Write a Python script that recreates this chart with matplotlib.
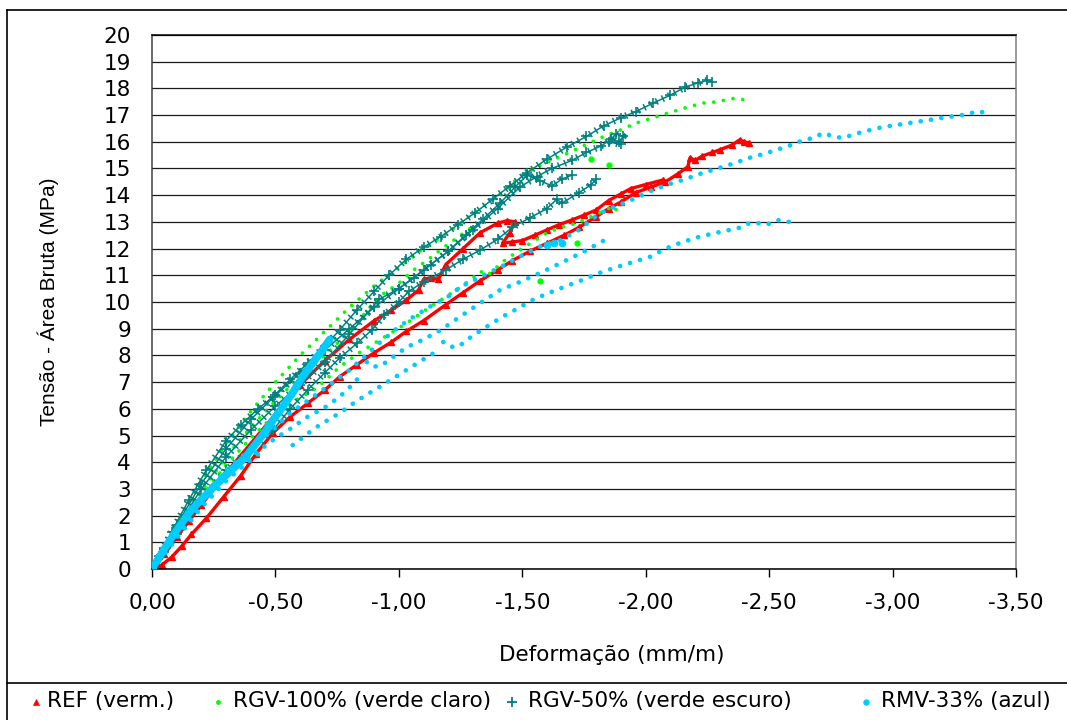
import matplotlib
matplotlib.use("Agg")
import matplotlib.pyplot as plt
from matplotlib.lines import Line2D
from matplotlib.ticker import FuncFormatter

# ---------------- data: stress (MPa) vs. strain (mm/m) ----------------
# REF (red)
ref_a_x = [0, -0.04, -0.08, -0.12, -0.16, -0.22, -0.29, -0.36, -0.42, -0.49, -0.56, -0.63,
           -0.70, -0.76, -0.83, -0.90, -0.97, -1.03, -1.10, -1.19, -1.26, -1.33, -1.40,
           -1.46, -1.53, -1.60, -1.67, -1.73, -1.80, -1.85, -1.90, -1.96, -2.02, -2.08,
           -2.13, -2.17, -2.18, -2.20, -2.23, -2.27, -2.30, -2.35, -2.38, -2.40, -2.42]
ref_a_y = [0, 0.15, 0.45, 0.85, 1.3, 1.9, 2.7, 3.5, 4.3, 5.1, 5.7, 6.2, 6.7, 7.2, 7.65,
           8.1, 8.5, 8.9, 9.3, 9.9, 10.35, 10.8, 11.2, 11.55, 11.9, 12.2, 12.5, 12.8, 13.2,
           13.5, 13.75, 14.1, 14.3, 14.5, 14.8, 15.06, 15.4, 15.3, 15.47, 15.6, 15.7,
           15.88, 16.07, 16.0, 15.95]
ref_b_x = [0, -0.05, -0.10, -0.15, -0.20, -0.30, -0.40, -0.50, -0.60, -0.70, -0.80, -0.90,
           -0.97, -1.03, -1.08, -1.10, -1.13, -1.16, -1.19, -1.26, -1.33, -1.40, -1.44,
           -1.47, -1.45, -1.42, -1.46, -1.50, -1.55, -1.60, -1.65, -1.70, -1.75, -1.80,
           -1.85, -1.90, -1.94, -2.00, -2.07]
ref_b_y = [0, 0.55, 1.2, 1.8, 2.4, 3.6, 4.7, 5.8, 6.9, 7.8, 8.6, 9.3, 9.7, 10.07, 10.45,
           10.85, 10.9, 10.85, 11.4, 12.0, 12.6, 12.95, 13.05, 13.0, 12.6, 12.2, 12.25,
           12.3, 12.5, 12.7, 12.9, 13.07, 13.25, 13.45, 13.8, 14.05, 14.25, 14.4, 14.57]

# RGV-100% (light green)
rgv100_a_x = [0, -0.05, -0.10, -0.20, -0.30, -0.40, -0.50, -0.60, -0.70, -0.80, -0.90,
              -1.00, -1.10, -1.20, -1.30, -1.40, -1.49, -1.56, -1.63, -1.69, -1.76, -1.83,
              -1.90, -1.96, -2.03, -2.10, -2.17, -2.23, -2.29, -2.35, -2.38, -2.41]
rgv100_a_y = [0, 0.8, 1.7, 3.3, 4.7, 5.9, 7.0, 8.0, 8.9, 9.8, 10.6, 11.3, 12.0, 12.6, 13.3,
              13.95, 14.7, 15.06, 15.35, 15.6, 15.9, 16.2, 16.45, 16.7, 16.9, 17.1, 17.3,
              17.45, 17.5, 17.62, 17.6, 17.56]
rgv100_b_x = [0, -0.05, -0.10, -0.20, -0.30, -0.40, -0.50, -0.60, -0.70, -0.80, -0.92,
              -1.00, -1.06, -1.12, -1.19, -1.25, -1.32]
rgv100_b_y = [0, 0.75, 1.5, 2.9, 4.2, 5.3, 6.3, 7.2, 8.0, 8.9, 10.2, 10.7, 11.2, 11.6,
              12.1, 12.5, 12.95]
rgv100_c_x = [0, -0.05, -0.10, -0.20, -0.30, -0.40, -0.50, -0.58, -0.67, -0.76, -0.84,
              -0.90, -0.97, -1.03, -1.10, -1.17, -1.24, -1.30, -1.33, -1.36, -1.42, -1.49,
              -1.55, -1.60, -1.66, -1.72, -1.78, -1.84, -1.87, -1.89]
rgv100_c_y = [0, 0.7, 1.4, 2.7, 3.9, 4.9, 5.8, 6.3, 6.8, 7.57, 8.1, 8.45, 8.85, 9.2, 9.65,
              10.07, 10.5, 10.9, 11.15, 11.0, 11.5, 11.95, 12.3, 12.6, 12.8, 12.95, 13.2,
              13.45, 13.6, 13.3]
rgv100_loose_x = [-1.57, -1.72, -1.78, -1.85]
rgv100_loose_y = [10.8, 12.2, 15.35, 15.13]

# RGV-50% (dark green)
rgv50_a_x = [0, -0.03, -0.08, -0.15, -0.22, -0.30, -0.36, -0.43, -0.49, -0.56, -0.63,
             -0.70, -0.76, -0.83, -0.90, -0.96, -1.03, -1.10, -1.17, -1.24, -1.31, -1.38,
             -1.45, -1.52, -1.60, -1.68, -1.76, -1.83, -1.90, -1.96, -2.03, -2.10, -2.16,
             -2.21, -2.25, -2.27]
rgv50_a_y = [0, 0.5, 1.4, 2.6, 3.7, 4.8, 5.4, 6.0, 6.45, 7.1, 7.7, 8.35, 8.95, 9.7, 10.4,
             11.0, 11.6, 12.05, 12.45, 12.9, 13.35, 13.85, 14.35, 14.85, 15.35, 15.8, 16.2,
             16.6, 16.9, 17.13, 17.45, 17.75, 18.05, 18.2, 18.3, 18.25]
rgv50_b_x = [0, -0.05, -0.10, -0.20, -0.30, -0.40, -0.50, -0.60, -0.70, -0.80, -0.90,
             -1.00, -1.10, -1.20, -1.30, -1.40, -1.49, -1.56, -1.62, -1.70, -1.76, -1.82,
             -1.86, -1.89, -1.91, -1.88, -1.85, -1.90]
rgv50_b_y = [0, 0.8, 1.65, 3.2, 4.5, 5.6, 6.5, 7.35, 8.2, 9.0, 9.8, 10.5, 11.2, 11.9, 12.7,
             13.5, 14.3, 14.7, 15.0, 15.3, 15.6, 15.85, 16.1, 16.0, 16.2, 16.3, 16.0, 15.9]
rgv50_c_x = [0, -0.05, -0.10, -0.20, -0.30, -0.40, -0.50, -0.60, -0.70, -0.80, -0.92,
             -1.00, -1.06, -1.13, -1.20, -1.27, -1.34, -1.41, -1.47, -1.52, -1.57, -1.62,
             -1.66, -1.70]
rgv50_c_y = [0, 0.75, 1.55, 3.0, 4.2, 5.2, 6.1, 6.9, 7.75, 8.8, 10.1, 10.5, 10.9, 11.4,
             11.9, 12.5, 13.1, 13.7, 14.3, 14.75, 14.55, 14.35, 14.6, 14.75]
rgv50_d_x = [0, -0.05, -0.10, -0.20, -0.30, -0.40, -0.49, -0.56, -0.63, -0.70, -0.76,
             -0.83, -0.89, -0.94, -1.00, -1.04, -1.10, -1.19, -1.26, -1.33, -1.40, -1.46,
             -1.53, -1.60, -1.64, -1.66, -1.73, -1.78, -1.80]
rgv50_d_y = [0, 0.65, 1.3, 2.6, 3.7, 4.5, 5.2, 6.0, 6.7, 7.35, 7.9, 8.45, 8.95, 9.5, 10.0,
             10.4, 10.75, 11.2, 11.6, 11.95, 12.35, 12.8, 13.15, 13.5, 13.85, 13.7, 14.1,
             14.4, 14.6]

# RMV-33% (blue)
rmv33_a_x = [0, -0.05, -0.10, -0.15, -0.20, -0.30, -0.41, -0.50, -0.56, -0.63, -0.69,
             -0.75, -0.80, -0.86, -0.92, -1.00, -1.06, -1.13, -1.20, -1.25, -1.33, -1.41,
             -1.49, -1.57, -1.65, -1.73, -1.81, -1.87, -1.95, -2.03, -2.09, -2.15, -2.22,
             -2.29, -2.36, -2.42, -2.48, -2.53, -2.58, -2.62, -2.66, -2.69, -2.72, -2.76,
             -2.80, -2.85, -2.90, -2.96, -3.03, -3.10, -3.15, -3.20, -3.26, -3.31, -3.34,
             -3.37, -3.39]
rmv33_a_y = [0, 0.7, 1.4, 2.05, 2.65, 3.7, 4.57, 5.3, 5.84, 6.3, 6.7, 7.1, 7.45, 7.95,
             8.46, 9.07, 9.45, 9.85, 10.2, 10.57, 10.94, 11.3, 11.7, 12.07, 12.3, 12.7,
             13.3, 13.55, 13.85, 14.2, 14.4, 14.57, 14.8, 15.0, 15.2, 15.4, 15.55, 15.7,
             15.85, 16.0, 16.1, 16.2, 16.33, 16.2, 16.14, 16.3, 16.42, 16.55, 16.65, 16.75,
             16.82, 16.9, 16.97, 17.04, 17.15, 17.1, 17.08]
rmv33_b1_x = [0, -0.05, -0.10, -0.20, -0.30, -0.40, -0.46]
rmv33_b1_y = [0, 0.55, 1.15, 2.3, 3.3, 4.1, 4.5]
rmv33_b2_x = [-0.57, -0.62, -0.68, -0.76, -0.83, -0.90, -0.97, -1.03, -1.09, -1.14]
rmv33_b2_y = [4.64, 5.0, 5.4, 5.84, 6.3, 6.7, 7.1, 7.45, 7.8, 8.08]
rmv33_b3_x = [-1.18, -1.20, -1.23, -1.26, -1.30, -1.36, -1.42, -1.48, -1.54, -1.61, -1.68,
              -1.75, -1.81, -1.88, -1.95, -2.02, -2.08, -2.15, -2.22, -2.29, -2.34, -2.39,
              -2.42, -2.46, -2.49, -2.54, -2.58, -2.60]
rmv33_b3_y = [8.5, 8.35, 8.3, 8.45, 8.75, 9.1, 9.45, 9.75, 10.07, 10.35, 10.6, 10.85,
              11.08, 11.3, 11.5, 11.7, 12.0, 12.25, 12.45, 12.6, 12.7, 12.8, 12.96, 12.95,
              12.9, 13.07, 13.0, 12.8]
rmv33_c1_x = [0, -0.05, -0.10, -0.20, -0.30, -0.40, -0.49, -0.56, -0.63, -0.70, -0.76,
              -0.80, -0.84]
rmv33_c1_y = [0, 0.6, 1.2, 2.4, 3.4, 4.2, 4.83, 5.25, 5.7, 6.05, 6.45, 6.8, 7.19]
rmv33_c2_x = [-0.87, -0.88, -0.90, -0.93, -0.97, -1.03, -1.10, -1.17, -1.24, -1.32, -1.41,
              -1.49, -1.57, -1.62, -1.68, -1.72, -1.76, -1.80, -1.83]
rmv33_c2_y = [7.75, 7.64, 7.58, 7.62, 7.9, 8.3, 8.6, 8.95, 9.4, 9.9, 10.45, 10.75, 11.08,
              11.3, 11.57, 11.75, 11.94, 12.15, 12.3]
rmv33_d_x = [0, -0.03, -0.06, -0.10, -0.15, -0.20, -0.25, -0.31, -0.38, -0.45, -0.52,
             -0.57, -0.61, -0.65, -0.69, -0.72]
rmv33_d_y = [0, 0.45, 0.9, 1.45, 2.1, 2.6, 3.07, 3.6, 4.2, 5.05, 5.95, 6.6, 7.2, 7.7, 8.2,
             8.6]
rmv33_loose_x = [-1.60, -1.63, -1.66]
rmv33_loose_y = [12.15, 12.2, 12.2]

series_labels = ["REF (verm.)", "RGV-100% (verde claro)",
                 "RGV-50% (verde escuro)", "RMV-33% (azul)"]
x_ticks = [0, -0.5, -1.0, -1.5, -2.0, -2.5, -3.0, -3.5]
y_ticks = list(range(0, 21))

RED = "#FF0000"
LIME = "#00FF00"
TEAL = "#008080"
SKY = "#00CCFF"

# ---------------- figure ----------------
plt.rcParams["font.family"] = ["DejaVu Sans"]
W, H = 1067, 720
fig = plt.figure(figsize=(W / 100, H / 100), dpi=100)
fig.patch.set_facecolor("white")


def fx(px):
    return px / W


def fy(py):
    return 1 - py / H


ax = fig.add_axes([fx(152), fy(569), fx(1016) - fx(152), fy(35) - fy(569)])
ax.set_xlim(0, -3.5)
ax.set_ylim(0, 20)


def draw_ref(x, y):
    ax.plot(x, y, color=RED, lw=2.4, solid_capstyle="round", zorder=2)
    ax.plot(x, y, ls="none", marker="^", ms=4.5, color=RED, zorder=2)


def draw_rgv100(x, y):
    ax.plot(x, y, color=LIME, lw=2.7, ls=(0, (0.01, 2.6)),
            dash_capstyle="round", zorder=3)


def draw_rgv50(x, y):
    # thin core line, cross-bars along it and '+' at each reading
    ax.plot(x, y, color=TEAL, lw=1.1, zorder=4)
    ax.plot(x, y, color=TEAL, lw=5.0, ls=(0, (0.22, 0.75)),
            dash_capstyle="butt", zorder=4)
    ax.plot(x, y, ls="none", marker="+", ms=7, mew=1.2, color=TEAL, zorder=4)


def draw_rmv33(x, y, lw=3.4):
    ax.plot(x, y, color=SKY, lw=lw, ls=(0, (0.01, 2.2)),
            dash_capstyle="round", zorder=5)


draw_ref(ref_a_x, ref_a_y)
draw_ref(ref_b_x, ref_b_y)

draw_rgv100(rgv100_a_x, rgv100_a_y)
draw_rgv100(rgv100_b_x, rgv100_b_y)
draw_rgv100(rgv100_c_x, rgv100_c_y)
ax.plot(rgv100_loose_x, rgv100_loose_y, ls="none", marker="o", ms=3.5,
        color=LIME, zorder=3)

draw_rgv50(rgv50_a_x, rgv50_a_y)
draw_rgv50(rgv50_b_x, rgv50_b_y)
draw_rgv50(rgv50_c_x, rgv50_c_y)
draw_rgv50(rgv50_d_x, rgv50_d_y)

draw_rmv33(rmv33_a_x, rmv33_a_y)
draw_rmv33(rmv33_b1_x, rmv33_b1_y)
draw_rmv33(rmv33_b2_x, rmv33_b2_y)
draw_rmv33(rmv33_b3_x, rmv33_b3_y)
draw_rmv33(rmv33_c1_x, rmv33_c1_y)
draw_rmv33(rmv33_c2_x, rmv33_c2_y)
ax.plot(rmv33_d_x, rmv33_d_y, color=SKY, lw=5.5, solid_capstyle="round", zorder=5)
ax.plot(rmv33_loose_x, rmv33_loose_y, ls="none", marker="o", ms=4.5,
        color=SKY, zorder=5)

# ---------------- axes styling ----------------
ax.set_yticks(y_ticks)
ax.set_xticks(x_ticks)
ax.yaxis.grid(True, color="#1a1a1a", lw=0.9)
ax.set_axisbelow(True)


def comma_fmt(v, pos):
    if abs(v) < 1e-9:
        return "0,00"
    return f"{v:.2f}".replace(".", ",")


ax.xaxis.set_major_formatter(FuncFormatter(comma_fmt))
ax.tick_params(axis="y", length=0, pad=15, labelsize=15.5)
ax.tick_params(axis="x", length=6, width=1, direction="out", pad=11,
               labelsize=15.5, color="#000000")
for side, col in (("left", "#404040"), ("bottom", "#000000"),
                  ("top", "#000000"), ("right", "#808080")):
    ax.spines[side].set_color(col)
    ax.spines[side].set_linewidth(1.1)

fig.text(fx(612), fy(655), "Deformação (mm/m)", ha="center", va="center",
         fontsize=15.5)
fig.text(fx(48), fy(302), "Tensão - Área Bruta (MPa)", ha="center", va="center",
         rotation=90, fontsize=15, family=["Liberation Sans", "DejaVu Sans"])

# ---------------- chart border and legend box ----------------
fig.add_artist(Line2D([fx(7), fx(7)], [fy(10), fy(720)], color="black", lw=1.2))
fig.add_artist(Line2D([fx(7), fx(1067)], [fy(10), fy(10)], color="black", lw=1.2))
fig.add_artist(Line2D([fx(7), fx(1067)], [fy(683), fy(683)], color="black", lw=1.2))

legend_marks = [
    dict(marker="^", ms=4, color=RED, mew=0.5),
    dict(marker="o", ms=3, color=LIME, mew=0.5),
    dict(marker="+", ms=7, color=TEAL, mew=1.3),
    dict(marker="o", ms=4, color=SKY, mew=0.5),
]
marker_px = [36, 218, 512, 866]
text_px = [47, 233, 528, 881]
for lab, mk, mx, tx in zip(series_labels, legend_marks, marker_px, text_px):
    fig.add_artist(Line2D([fx(mx)], [fy(702)], ls="none", **mk))
    fig.text(fx(tx), fy(701), lab, ha="left", va="center", fontsize=15.5)

fig.savefig("out.png", dpi=100, facecolor="white")
